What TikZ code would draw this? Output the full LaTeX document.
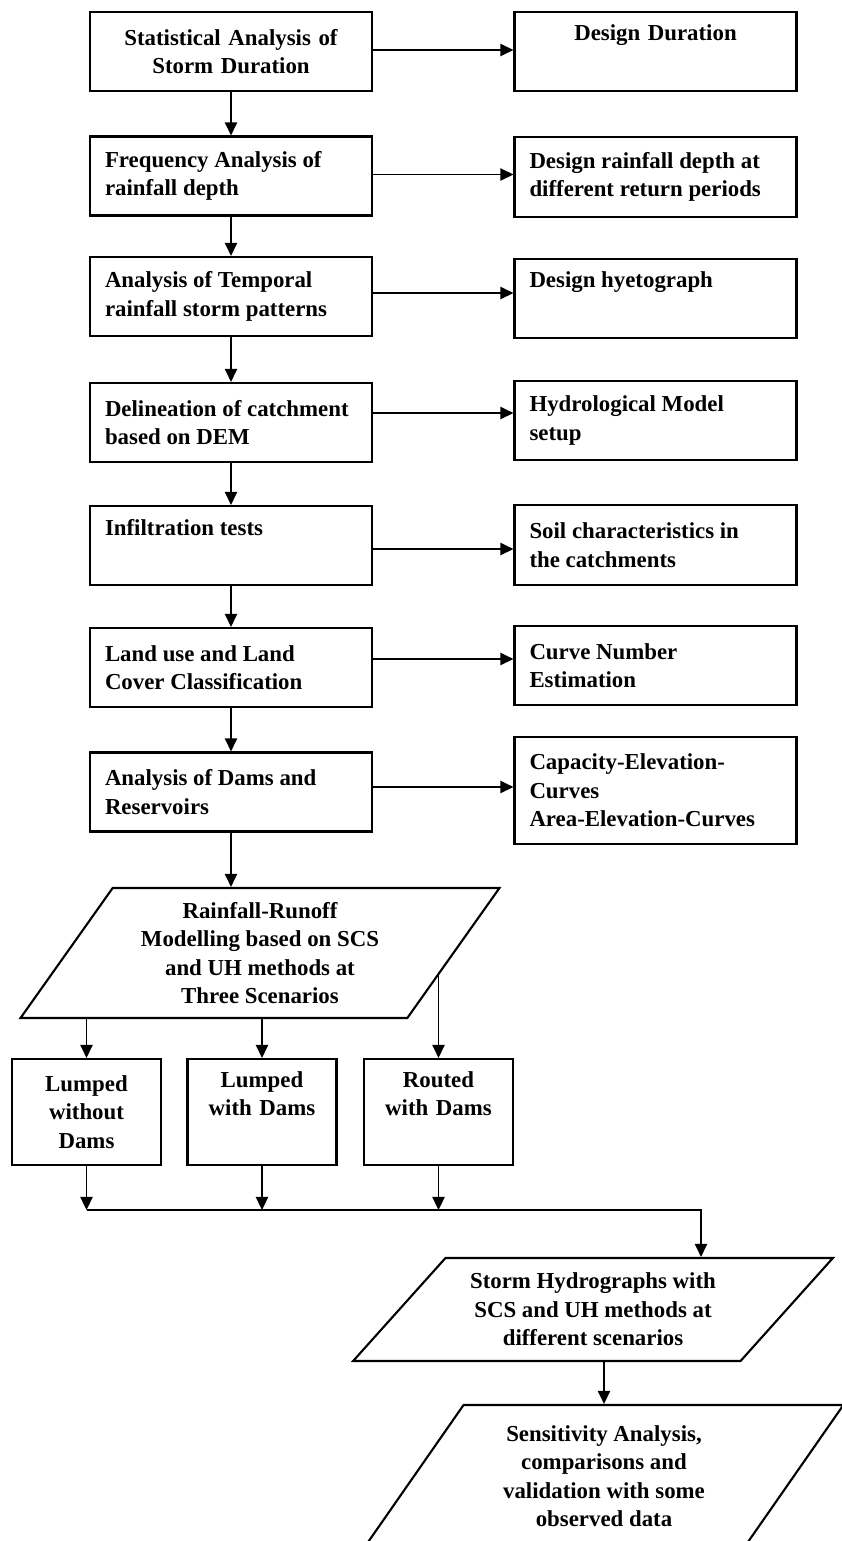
\documentclass[tikz,border=0pt]{standalone}
\usepackage{fontspec}
\setmainfont{Liberation Serif}
\usetikzlibrary{arrows.meta,shapes.geometric,calc}

\begin{document}
\begin{tikzpicture}[>={Triangle[length=7.5pt,width=7pt]}, font=\fontsize{13}{16.2}\selectfont\bfseries]
    % Design storm and rainfall-runoff workflow
    \tikzset{stepbox/.style={draw, line width=1.2pt, minimum width=5.64cm, minimum height=1.58cm, text width=5.04cm, inner xsep=0.3cm, inner ysep=0pt, align=flush left},
             midbox/.style={stepbox, align=center},
             smallbox/.style={draw, line width=1.2pt, minimum width=2.98cm, minimum height=2.12cm, text width=2.6cm, inner xsep=0.19cm, inner ysep=0pt, align=center},
             datablock/.style={draw, line width=1.2pt, trapezium, trapezium stretches=true, minimum width=9.6cm, inner sep=0pt, align=center},
             flow/.style={->, line width=1pt}}
    \useasboundingbox (0,0) rectangle (16.84,-30.82);
    \clip (0,0) rectangle (16.84,-30.82);
    % left column
    \node[midbox] (b1) at (4.62,-1.03) {Statistical Analysis of\\Storm Duration};
    \node[stepbox] (b2) at (4.62,-3.52) {Frequency Analysis of\\rainfall depth};
    \node[stepbox] (b3) at (4.62,-5.93) {Analysis of Temporal\\rainfall storm patterns};
    \node[stepbox] (b4) at (4.62,-8.45) {Delineation of catchment\\based on DEM};
    \node[stepbox] (b5) at (4.62,-10.91) {Infiltration tests\\\strut};
    \node[stepbox] (b6) at (4.62,-13.35) {Land use and Land\\Cover Classification};
    \node[stepbox] (b7) at (4.62,-15.84) {Analysis of Dams and\\Reservoirs};
    % right column
    \node[midbox] (r1) at (13.11,-1.03) {Design Duration\\\strut};
    \node[stepbox, minimum height=1.6cm] (r2) at (13.11,-3.54) {Design rainfall depth at\\different return periods};
    \node[stepbox] (r3) at (13.11,-5.97) {Design hyetograph\\\strut};
    \node[stepbox] (r4) at (13.11,-8.41) {Hydrological Model\\setup};
    \node[stepbox, minimum height=1.6cm] (r5) at (13.11,-10.9) {Soil characteristics in\\the catchments};
    \node[stepbox] (r6) at (13.11,-13.31) {Curve Number\\Estimation};
    \node[stepbox, minimum height=2.14cm] (r7) at (13.11,-15.81) {Capacity-Elevation-\\Curves\\Area-Elevation-Curves};
    % modelling and scenarios
    \node[datablock, trapezium left angle=53.8, trapezium right angle=126.2, minimum height=2.6cm] (p1) at (5.2,-19.06) {Rainfall-Runoff\\Modelling based on SCS\\and UH methods at\\Three Scenarios};
    \node[smallbox] (sb1) at (1.73,-22.24) {Lumped\\without\\Dams};
    \node[smallbox] (sb2) at (5.24,-22.24) {Lumped\\with Dams\\\strut};
    \node[smallbox] (sb3) at (8.77,-22.24) {Routed\\with Dams\\\strut};
    \coordinate (join) at (14.02,-24.2);
    \node[datablock, trapezium left angle=43.5, trapezium right angle=136.5, minimum height=2.06cm] (p2) at (11.86,-26.19) {Storm Hydrographs with\\SCS and UH methods at\\different scenarios};
    \node[datablock, trapezium left angle=55, trapezium right angle=125, minimum height=2.84cm] (p3) at (12.08,-29.52) {Sensitivity Analysis,\\comparisons and\\validation with some\\observed data};
    % arrows
    \foreach \a/\b in {b1/b2, b2/b3, b3/b4, b4/b5, b5/b6, b6/b7}
        \draw[flow] (\a) -- (\b);
    \foreach \l/\r/\dy in {b1/r1/0.03, b2/r2/0.03, b3/r3/0.07, b4/r4/0.19, b5/r5/-0.07, b6/r6/0.17, b7/r7/0.1}
        \draw[flow] (\l.east) ++(0,\dy) coordinate (s) -- (s -| \r.west);
    \draw[flow] (b7.south) -- (b7.south |- p1.north);
    \draw[flow] (sb1.north |- p1.south) -- (sb1.north);
    \draw[flow] (sb2.north |- p1.south) -- (sb2.north);
    \coordinate (p1r) at ($(p1.bottom right corner)!0.36!(p1.top right corner)$);
    \draw[flow] (sb3.north |- p1r) -- (sb3.north);
    \foreach \s in {sb1, sb2, sb3}
        \draw[flow] (\s) -- (\s |- join);
    \draw[flow] (sb1.south |- join) -- (join) -- (join |- p2.north);
    \draw[flow] (p3.north |- p2.south) -- (p3.north);
\end{tikzpicture}
\end{document}
